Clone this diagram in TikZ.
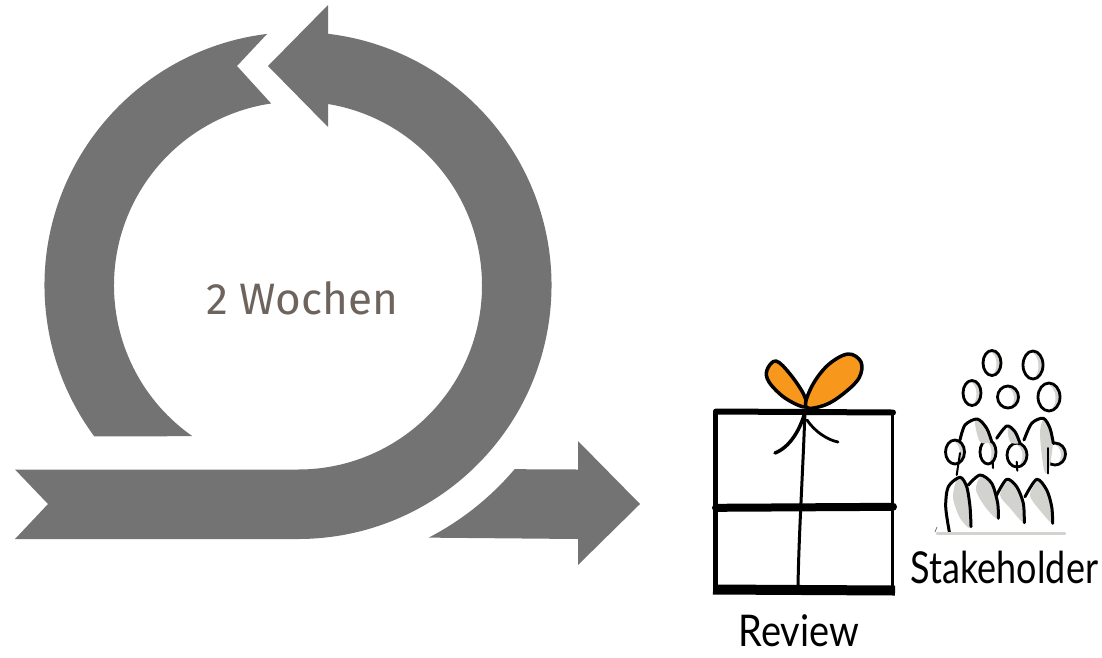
\documentclass[tikz,border=0pt]{standalone}
\usepackage{fontspec}
\usetikzlibrary{calc}
\newfontfamily\labelfont{Fira Sans}
\newfontfamily\handfont{Lato}
\definecolor{arrowgray}{HTML}{737373}
\definecolor{labelgray}{HTML}{6E645E}
\definecolor{bowfill}{HTML}{F7981D}
\definecolor{shadegray}{HTML}{D2D2CE}
\tikzset{
  cyclepart/.style={fill=arrowgray,draw=none},
  sketch/.style={draw=black,line width=#1,line cap=round,line join=round},
  sketch/.default=2pt,
  shade/.style={fill=shadegray,draw=none},
  handtext/.style={font=\handfont\fontsize{#1}{#1}\selectfont,inner sep=0pt},
}
\begin{document}
\begin{tikzpicture}[x=1pt,y=-1pt]
    \useasboundingbox (0,0) rectangle (1102,657);
    \coordinate (hub) at (298,285.5);
    % cycle arrow
    \fill[cyclepart] ($(hub)+(97:253.5pt)$) arc[start angle=97,end angle=216.5,radius=253.5pt]
      -- ($(hub)+(235:184pt)$) arc[start angle=235,end angle=98.4,radius=184pt] -- (237,66) -- cycle;
    \fill[cyclepart] (268,66) -- (328,5) -- ($(hub)+(83.2:253.5pt)$) arc[start angle=83.2,end angle=-90,radius=253.5pt]
      -- (15,539) -- (48,504) -- (15,469.5) -- ($(hub)+(-90:184pt)$) arc[start angle=-90,end angle=80.6,radius=184pt]
      -- (328,127) -- cycle;
    \fill[cyclepart] ($(hub)+(-62.6:284pt)$) arc[start angle=-62.6,end angle=-40.3,radius=284pt]
      -- (578,469.5) -- (578,441) -- (640,504) -- (578,565) -- (578,539) -- cycle;
    \node[font=\labelfont\fontsize{44}{44}\selectfont,text=labelgray,inner sep=0pt] (weeks) at (302,298) {2 Wochen};
    % gift box
    \draw[sketch=5pt] (715.7,412) -- (715.7,588);
    \draw[sketch=2.8pt] (892.7,412) -- (892.7,590);
    \draw[sketch=6pt] (716,411.5) -- (893,412.5);
    \draw[sketch=8pt] (716,507.8) -- (893,506.8);
    \draw[sketch=10pt,line cap=butt] (713,589.5) -- (895,590.5);
    \draw[sketch=3pt] (805,410) .. controls (803,470) and (799,530) .. (798,586);
    \draw[sketch=3.5pt] (805,412) .. controls (800,430) and (790,447) .. (775,453);
    \draw[sketch=2.8pt] (807,420) .. controls (815,432) and (828,440) .. (838,442);
    \draw[sketch=3.5pt,fill=bowfill] plot[smooth cycle,tension=0.6] coordinates {(805,407) (785,398) (769,382) (767,370) (776,361) (790,374) (804,395)};
    \draw[sketch=3.5pt,fill=bowfill] plot[smooth cycle,tension=0.6] coordinates {(806,407) (812,386) (828,365) (848,354) (861,362) (859,378) (843,394) (825,405)};
    % people, heads first
    \foreach \hx/\hy/\rx/\ry in {992/363/9/12.5,1033/365/10/14,972/393/9/12.5,1008/397/10.5/11,1049/397/11/14,955/452/9.5/12,988/452/8/12,1017/455/10/12,1055/454/10.5/11}{
      \fill[shade] (\hx,\hy) ellipse[x radius=\rx pt,y radius=\ry pt];
      \fill[white] (\hx-3.5,\hy+1) ellipse[x radius=\rx pt-1pt,y radius=\ry pt];
      \draw[sketch=2.8pt] (\hx,\hy) ellipse[x radius=\rx pt,y radius=\ry pt];
    }
    \foreach \shadepts in {{(958,478) (968,488) (971,527) (960,518) (953,497)},
                           {(981,477) (993,485) (998,518) (986,508) (976,490)},
                           {(1008,481) (1018,488) (1024,522) (1010,508) (1000,495)},
                           {(1038,481) (1047,490) (1053,523) (1038,508) (1030,495)},
                           {(975,420) (988,430) (992,441) (980,442)},
                           {(1008,428) (1016,433) (1020,443) (1010,442)},
                           {(1043,420) (1050,430) (1053,442) (1049,470) (1044,470) (1040,435)}}{
      \fill[shade] plot[smooth cycle] coordinates \shadepts;
    }
    \foreach \linepts in {{(949.3,531.7) (945.7,506.7) (948.3,486.7) (960,477.3) (966.7,486.7) (970,506.7) (971,526.7)},
                          {(968.3,485) (980,475) (991.7,483.3) (997.7,503.3) (998.3,518.3)},
                          {(996.7,495) (1006.7,479.3) (1016.7,486.7) (1023.3,503.3) (1024.3,522.7)},
                          {(1025,496.7) (1036.7,479.3) (1046.7,490) (1051.7,506.7) (1052.7,523.3)},
                          {(960,440) (965,425) (977.3,419) (986.7,428.3) (991.7,441.7)},
                          {(996.7,438.3) (1006.7,426) (1015,431.7) (1020,443.3)},
                          {(1024,440) (1031.7,423.3) (1043.3,418.3) (1050,428.3) (1053.3,443.3)}}{
      \draw[sketch=3pt] plot[smooth] coordinates \linepts;
    }
    \foreach \sx/\sy/\ex/\ey in {960/453/956.7/475,992.7/461.7/993/468,1016.7/461.7/1017.3/470.7,1048.3/448/1048.3/473.3}{
      \draw[sketch=2pt] (\sx,\sy) -- (\ex,\ey);
    }
    \draw[shadegray,line width=2.5pt,line cap=round] (937,533.5) -- (1065,533.5);
    \draw[black!60,line width=0.7pt] (937,527) -- (935,532);
    \node[handtext=38] (review) at (799,631) {\scalebox{1}[1.15]{Review}};
    \node[handtext=40] (stakeholder) at (1004.5,567) {\scalebox{0.9}[1.1]{Stakeholder}};
\end{tikzpicture}
\end{document}
